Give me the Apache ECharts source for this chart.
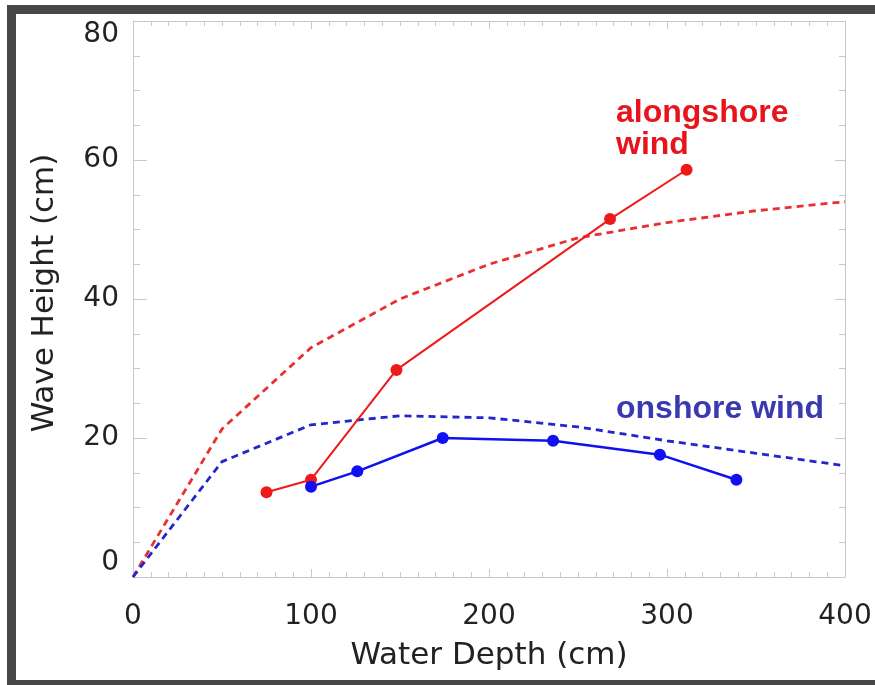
<!DOCTYPE html>
<html>
<head>
<meta charset="utf-8">
<script src="https://cdn.jsdelivr.net/npm/echarts@6/dist/echarts.min.js"></script>
<style>
  html, body { margin: 0; padding: 0; background: #fff; }
  #chart { width: 875px; height: 685px; }
</style>
</head>
<body>
<div id="chart"></div>
<script>
// measured points
const alongDepth = [75, 100, 148, 268, 311];
const alongHeight = [12.2, 14, 29.8, 51.5, 58.6];
const onDepth = [100, 126, 174, 236, 296, 339];
const onHeight = [13, 15.2, 20, 19.6, 17.6, 14];

// model curves (dashed)
const modelDepth = [0, 50, 100, 150, 200, 250, 300, 350, 400];
const modelAlong = [0, 21.3, 33, 40, 45, 48.8, 51, 52.7, 54];
const modelOn = [0, 16.6, 21.9, 23.2, 22.9, 21.6, 19.6, 17.8, 16];

const xTicks = [0, 100, 200, 300, 400];
const yTicks = [0, 20, 40, 60, 80];

const pairs = (xs, ys) => xs.map((x, i) => [x, ys[i]]);

const RED = '#ee1a1a';
const BLUE = '#1010f0';
const FONT = '"DejaVu Sans", sans-serif';
const TICK = '#c8c8c8';

const chart = echarts.init(document.getElementById('chart'));

const axisBase = {
  type: 'value',
  axisLine: { show: true, onZero: false, lineStyle: { color: TICK, width: 1 } },
  splitLine: { show: false },
  minorSplitLine: { show: false }
};

const option = {
  animation: false,
  backgroundColor: '#fff',
  grid: { left: 133, right: 30, top: 21, bottom: 108 },
  xAxis: [
    Object.assign({}, axisBase, {
      min: xTicks[0], max: xTicks[xTicks.length - 1], interval: 100,
      name: 'Water Depth (cm)', nameLocation: 'middle', nameGap: 63,
      nameTextStyle: { fontFamily: FONT, fontSize: 31, color: '#222' },
      axisTick: { inside: true, length: 8, lineStyle: { color: TICK } },
      minorTick: { show: true, splitNumber: 10, length: 5, lineStyle: { color: TICK } },
      axisLabel: { fontFamily: FONT, fontSize: 28, color: '#222', margin: 26 }
    }),
    Object.assign({}, axisBase, {
      position: 'top', min: 0, max: 400, interval: 100,
      axisTick: { inside: true, length: 8, lineStyle: { color: TICK } },
      minorTick: { show: true, splitNumber: 10, length: 5, lineStyle: { color: TICK } },
      axisLabel: { show: false }
    })
  ],
  yAxis: [
    Object.assign({}, axisBase, {
      min: yTicks[0], max: yTicks[yTicks.length - 1], interval: 20,
      name: 'Wave Height (cm)', nameLocation: 'middle', nameGap: 73,
      nameTextStyle: { fontFamily: FONT, fontSize: 31, color: '#222', padding: [0, 0, 0, 12] },
      axisTick: { inside: true, length: 14, lineStyle: { color: TICK } },
      minorTick: { show: true, splitNumber: 4, length: 7, lineStyle: { color: TICK } },
      axisLabel: {
        fontFamily: FONT, fontSize: 28, color: '#222', margin: 14,
        verticalAlignMinLabel: 'bottom', verticalAlignMaxLabel: 'top'
      }
    }),
    Object.assign({}, axisBase, {
      position: 'right', min: 0, max: 80, interval: 20,
      axisTick: { inside: true, length: 10, lineStyle: { color: TICK } },
      minorTick: { show: true, splitNumber: 4, length: 6, lineStyle: { color: TICK } },
      axisLabel: { show: false }
    })
  ],
  series: [
    {
      name: 'alongshore model', type: 'line', symbol: 'none', z: 2,
      data: pairs(modelDepth, modelAlong),
      lineStyle: { color: '#e83030', width: 2.8, type: [7, 5] }
    },
    {
      name: 'onshore model', type: 'line', symbol: 'none', z: 2,
      data: pairs(modelDepth, modelOn),
      lineStyle: { color: '#2424d0', width: 2.8, type: [7, 5] }
    },
    {
      name: 'alongshore wind', type: 'line', symbol: 'circle', symbolSize: 12, z: 3,
      data: pairs(alongDepth, alongHeight),
      itemStyle: { color: RED },
      lineStyle: { color: RED, width: 2 }
    },
    {
      name: 'onshore wind', type: 'line', symbol: 'circle', symbolSize: 12, z: 4,
      data: pairs(onDepth, onHeight),
      itemStyle: { color: BLUE },
      lineStyle: { color: BLUE, width: 2.5 }
    }
  ],
  graphic: [
    {
      type: 'rect', silent: true, z: 100,
      shape: { x: 11.5, y: 9.5, width: 900, height: 675 },
      style: { fill: 'none', stroke: '#474747', lineWidth: 9 }
    },
    {
      type: 'text', left: 616, top: 97, z: 50,
      style: {
        text: 'alongshore\nwind', fill: '#e8141c',
        font: 'bold 32px "Liberation Sans", Arial, sans-serif', lineHeight: 32
      }
    },
    {
      type: 'text', left: 616, top: 393, z: 50,
      style: {
        text: 'onshore wind', fill: '#3a3ab0',
        font: 'bold 32px "Liberation Sans", Arial, sans-serif'
      }
    }
  ]
};

chart.setOption(option);
</script>
</body>
</html>
